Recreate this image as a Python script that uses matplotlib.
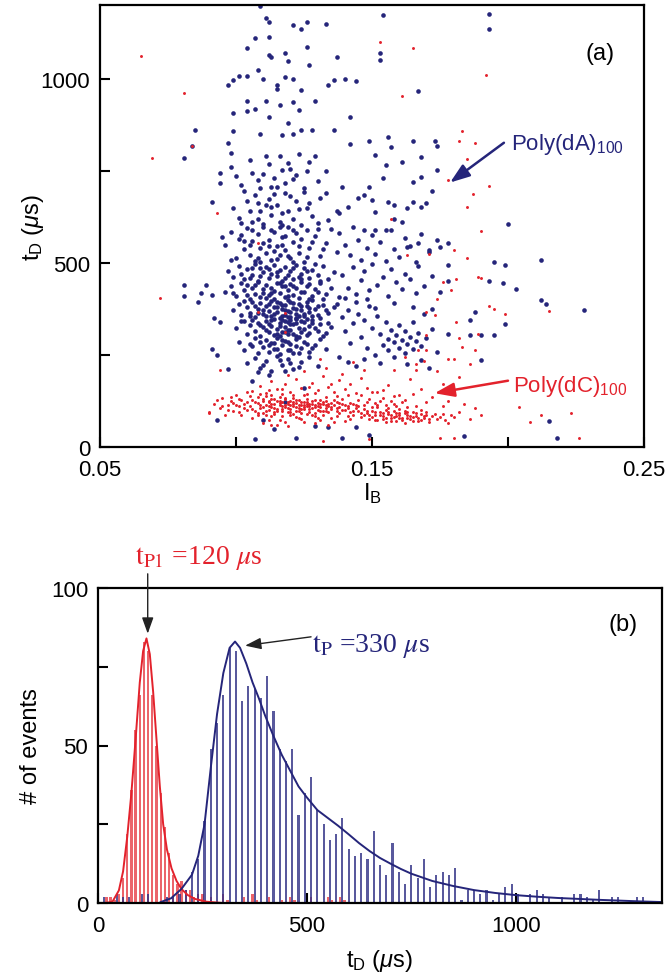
import matplotlib
matplotlib.use("Agg")
import matplotlib.pyplot as plt
from matplotlib.ticker import MultipleLocator, FixedLocator

# ----------------------------
# Data
# ----------------------------

# panel (a): blocking current I_B vs dwell time t_D (us)
blue_core = [
    (0.102,712),(0.106,745),(0.109,702),(0.112,768),(0.114,731),(0.116,790),(0.118,716),(0.120,756),(0.122,738),
    (0.125,702),(0.127,775),(0.130,722),(0.111,790),(0.117,752),(0.108,725),(0.123,795),(0.133,748),(0.115,705),
    (0.099,648),(0.101,622),(0.104,668),(0.106,611),(0.107,684),(0.109,642),(0.110,605),(0.112,673),(0.113,630),
    (0.115,656),(0.116,612),(0.118,690),(0.119,641),(0.121,619),(0.122,667),(0.124,603),(0.126,650),(0.128,628),
    (0.131,676),(0.134,615),(0.103,695),(0.117,635),(0.120,681),(0.111,658),(0.125,691),(0.108,620),(0.137,642),
    (0.100,735),(0.105,780),(0.110,740),(0.113,705),(0.119,772),(0.121,728),(0.126,748),(0.129,790),(0.105,640),
    (0.108,662),(0.114,687),(0.117,602),(0.123,645),(0.127,662),(0.130,608),(0.133,690),(0.102,607),(0.113,651),
    (0.096,548),(0.098,583),(0.100,512),(0.101,566),(0.103,537),(0.104,594),(0.105,521),(0.106,559),(0.107,505),
    (0.108,578),(0.109,541),(0.110,597),(0.111,528),(0.112,562),(0.113,509),(0.114,585),(0.115,547),(0.116,520),
    (0.117,571),(0.118,534),(0.119,598),(0.120,513),(0.121,556),(0.122,580),(0.123,527),(0.124,565),(0.125,503),
    (0.126,589),(0.127,540),(0.129,572),(0.131,518),(0.133,553),(0.135,591),(0.137,530),(0.109,502),(0.114,533),
    (0.118,574),(0.121,501),(0.106,590),(0.112,545),(0.116,598),(0.103,558),
    (0.098,507),(0.102,575),(0.105,548),(0.108,512),(0.110,555),(0.113,588),(0.115,510),(0.117,548),(0.119,519),
    (0.121,590),(0.123,546),(0.126,515),(0.128,556),(0.130,593),(0.132,537),
    (0.097,478),(0.099,462),(0.101,491),(0.103,455),(0.104,483),(0.106,468),(0.107,497),(0.108,452),(0.110,476),
    (0.111,489),(0.112,458),(0.113,471),(0.114,495),(0.115,463),(0.116,481),(0.117,452),(0.118,490),(0.119,466),
    (0.120,478),(0.121,455),(0.122,493),(0.124,470),(0.125,486),(0.127,459),(0.128,481),(0.130,467),(0.132,492),
    (0.134,456),(0.136,474),(0.105,459),(0.109,485),(0.123,462),
    (0.102,470),(0.106,487),(0.109,463),(0.112,482),(0.115,476),(0.118,460),(0.121,487),(0.124,455),(0.126,478),
    (0.129,497),(0.131,452),
    (0.096,421),(0.098,438),(0.100,410),(0.102,446),(0.103,425),(0.105,403),(0.106,433),(0.107,415),(0.108,447),
    (0.109,406),(0.110,428),(0.111,440),(0.112,412),(0.113,432),(0.114,402),(0.115,445),(0.116,419),(0.117,436),
    (0.118,408),(0.119,426),(0.120,443),(0.121,414),(0.122,431),(0.123,405),(0.124,448),(0.125,420),(0.126,437),
    (0.128,411),(0.129,429),(0.131,445),(0.133,416),(0.135,433),(0.138,407),(0.104,441),(0.110,418),(0.118,438),
    (0.127,402),(0.114,424),
    (0.099,418),(0.104,412),(0.107,440),(0.111,405),(0.113,419),(0.116,446),(0.119,410),(0.121,436),(0.124,422),
    (0.127,443),(0.130,420),(0.132,403),
    (0.099,372),(0.101,388),(0.102,358),(0.104,381),(0.105,365),(0.106,395),(0.107,352),(0.108,376),(0.109,390),
    (0.110,361),(0.111,384),(0.112,370),(0.113,397),(0.113,355),(0.114,379),(0.115,366),(0.116,392),(0.116,351),
    (0.117,374),(0.118,386),(0.118,359),(0.119,369),(0.120,394),(0.120,353),(0.121,377),(0.122,362),(0.123,389),
    (0.124,371),(0.125,356),(0.126,383),(0.127,367),(0.128,398),(0.129,375),(0.130,358),(0.132,386),(0.134,364),
    (0.136,379),(0.103,396),(0.111,357),(0.115,381),(0.119,398),(0.122,350),(0.108,363),
    (0.100,322),(0.102,341),(0.104,308),(0.105,331),(0.106,346),(0.107,315),(0.108,337),(0.109,302),(0.110,325),
    (0.111,343),(0.112,311),(0.113,329),(0.114,348),(0.114,304),(0.115,320),(0.116,338),(0.117,313),(0.117,345),
    (0.118,327),(0.119,306),(0.119,340),(0.120,318),(0.121,333),(0.122,301),(0.122,347),(0.123,324),(0.124,312),
    (0.125,339),(0.126,305),(0.127,328),(0.128,344),(0.130,316),(0.131,335),(0.133,309),(0.135,326),(0.112,333),
    (0.116,301),(0.120,346),(0.118,312),
    (0.103,342),(0.105,355),(0.107,384),(0.109,331),(0.110,372),(0.111,318),(0.112,388),(0.113,345),(0.114,362),
    (0.115,307),(0.115,395),(0.116,328),(0.117,356),(0.117,385),(0.118,341),(0.118,372),(0.119,319),(0.119,352),
    (0.120,366),(0.120,334),(0.121,390),(0.121,308),(0.122,376),(0.122,337),(0.123,355),(0.123,298),(0.124,383),
    (0.124,343),(0.125,362),(0.125,320),(0.126,348),(0.126,394),(0.127,310),(0.127,377),(0.128,336),(0.128,357),
    (0.129,323),(0.130,382),(0.131,349),(0.132,302),(0.133,371),(0.134,338),
    (0.101,286),(0.103,262),(0.105,279),(0.107,295),(0.108,256),(0.110,271),(0.111,290),(0.112,259),(0.113,283),
    (0.114,267),(0.115,297),(0.116,252),(0.117,276),(0.118,289),(0.119,263),(0.120,280),(0.121,254),(0.122,293),
    (0.124,270),(0.125,285),(0.127,258),(0.129,277),(0.131,292),(0.133,265),(0.114,283),
    (0.106,275),(0.109,284),(0.112,276),(0.115,265),(0.117,291),(0.119,284),(0.120,262),(0.122,274),(0.123,256),
    (0.126,279),(0.128,268),
    (0.104,228),(0.107,241),(0.109,215),(0.111,234),(0.113,207),(0.115,246),(0.117,222),(0.119,238),(0.121,211),
    (0.124,230),(0.127,244),(0.108,203),(0.130,219),(0.116,236),(0.120,228),(0.123,217),(0.110,222),(0.112,196),
    (0.118,205),
]

blue_wing = [
    (0.138,582),(0.140,548),(0.142,521),(0.143,596),(0.145,563),(0.146,508),(0.148,540),(0.150,575),(0.151,525),
    (0.153,556),(0.155,506),(0.157,590),(0.158,538),(0.160,517),(0.162,567),(0.164,545),(0.166,503),(0.168,578),
    (0.171,529),(0.174,561),(0.139,468),(0.141,432),(0.143,489),(0.144,415),(0.146,454),(0.147,478),(0.149,426),
    (0.150,496),(0.152,441),(0.154,462),(0.156,409),(0.157,483),(0.159,447),(0.161,428),(0.162,471),(0.164,455),
    (0.166,418),(0.167,492),(0.169,436),(0.172,464),(0.175,421),(0.178,452),(0.140,405),(0.148,402),
    (0.137,388),(0.139,352),(0.140,315),(0.141,371),(0.142,283),(0.143,338),(0.145,362),(0.146,298),(0.147,345),
    (0.148,268),(0.149,384),(0.150,322),(0.151,251),(0.152,357),(0.153,307),(0.154,276),(0.155,339),(0.156,292),
    (0.156,262),(0.157,318),(0.158,284),(0.159,305),(0.160,270),(0.160,331),(0.161,291),(0.162,256),(0.162,314),
    (0.163,279),(0.164,300),(0.165,266),(0.165,340),(0.166,287),(0.167,309),(0.168,274),(0.169,362),(0.170,295),
    (0.172,320),(0.174,258),(0.138,245),(0.141,232),(0.144,221),(0.147,238),(0.153,228),(0.158,243),(0.163,226),
    (0.168,235),(0.171,215),(0.144,394),(0.151,378),(0.158,392),(0.165,381),(0.172,375),
]

blue_sparse = [
    (0.109,1197),(0.111,1166),(0.112,1155),(0.121,1147),(0.126,1155),(0.124,1134),(0.133,1149),(0.154,1173),
    (0.193,1176),(0.193,1135),(0.107,1110),(0.112,1114),(0.104,1084),(0.112,1064),(0.113,1058),(0.118,1071),
    (0.119,1048),(0.126,1087),(0.137,1060),(0.127,1036),(0.153,1071),(0.153,1051),
    (0.097,982),(0.099,996),(0.101,1008),(0.104,1007),(0.108,1024),(0.110,999),(0.115,982),(0.118,1005),
    (0.121,998),(0.124,969),(0.115,973),(0.134,983),(0.136,996),(0.140,998),(0.144,994),(0.167,966),
    (0.104,940),(0.107,918),(0.104,912),(0.111,940),(0.116,928),(0.121,937),(0.123,915),(0.129,939),
    (0.099,906),(0.112,895),(0.119,880),(0.142,895),(0.136,860),(0.128,860),(0.124,860),
    (0.085,860),(0.099,858),(0.109,851),(0.117,847),(0.121,851),(0.084,818),(0.097,826),(0.081,785),
    (0.142,822),(0.149,830),(0.156,842),(0.157,815),(0.165,830),(0.173,830),(0.174,817),(0.151,794),
    (0.155,765),(0.161,773),(0.168,786),(0.174,752),(0.165,720),(0.168,734),(0.172,694),(0.154,729),
    (0.149,705),(0.147,684),(0.139,707),(0.138,634),(0.141,652),(0.145,677),(0.150,670),(0.151,639),
    (0.156,665),(0.158,658),(0.163,650),(0.165,665),(0.170,663),(0.168,652),(0.155,589),(0.151,589),
    (0.147,589),(0.161,610),(0.158,620),(0.200,605),
    (0.178,553),(0.175,543),(0.171,534),(0.167,554),(0.163,542),(0.212,507),(0.195,502),(0.199,494),
    (0.178,494),(0.193,451),(0.198,444),(0.203,430),(0.212,399),(0.214,388),(0.228,371),(0.199,333),
    (0.195,305),(0.190,305),(0.186,305),(0.178,306),(0.186,346),(0.188,367),(0.190,236),(0.215,71),
    (0.218,24),(0.184,29),
    (0.081,439),(0.081,409),(0.086,394),(0.087,418),(0.089,441),(0.091,412),(0.092,349),(0.094,340),
    (0.091,265),(0.093,251),(0.097,213),(0.093,72),(0.095,571),(0.094,743),(0.094,716),(0.091,666),
    (0.098,761),(0.098,797),
    (0.107,23),(0.114,50),(0.122,24),(0.129,56),(0.134,54),(0.139,24),(0.149,32),(0.144,54),(0.110,72),
    (0.118,122),(0.106,180),(0.125,160),
]

red_core = [
    (0.105,112),(0.106,128),(0.107,98),(0.108,119),(0.108,135),(0.109,105),(0.110,124),(0.110,92),(0.111,115),
    (0.111,138),(0.112,101),(0.112,121),(0.113,109),(0.113,131),(0.114,95),(0.114,117),(0.115,126),(0.115,104),
    (0.116,113),(0.116,136),(0.117,99),(0.117,121),(0.118,108),(0.118,129),(0.119,94),(0.119,116),(0.120,103),
    (0.120,125),(0.121,111),(0.121,133),(0.122,97),(0.122,119),(0.123,106),(0.123,127),(0.124,114),(0.124,91),
    (0.125,122),(0.125,102),(0.126,110),(0.126,131),(0.127,96),(0.127,118),(0.128,107),(0.128,126),(0.129,113),
    (0.129,93),(0.130,120),(0.130,101),(0.131,109),(0.131,128),(0.132,98),(0.132,116),(0.133,105),(0.133,124),
    (0.134,111),(0.134,94),(0.135,119),(0.135,103),(0.136,113),(0.137,99),(0.137,122),(0.138,108),(0.139,116),
    (0.140,101),(0.141,112),(0.142,95),(0.112,111),(0.116,119),(0.119,107),(0.121,123),(0.124,104),(0.126,116),
    (0.129,108),(0.131,118),(0.118,114),(0.114,106),(0.123,115),(0.127,111),(0.110,108),(0.133,113),(0.120,114),
    (0.117,110),(0.125,113),(0.122,109),
    (0.106,104),(0.107,121),(0.109,113),(0.110,131),(0.111,99),(0.112,126),(0.113,116),(0.114,129),(0.115,97),
    (0.116,125),(0.117,104),(0.118,133),(0.119,123),(0.120,96),(0.121,117),(0.122,128),(0.123,99),(0.124,121),
    (0.125,108),(0.126,123),(0.127,103),(0.128,116),(0.129,127),(0.130,110),(0.131,97),(0.132,123),(0.133,97),
    (0.134,118),(0.135,109),(0.136,127),(0.137,106),(0.138,120),(0.139,100),(0.140,113),(0.141,105),(0.142,119),
    (0.143,99),(0.144,113),
    (0.090,96),(0.092,118),(0.094,105),(0.095,132),(0.096,88),(0.097,114),(0.098,125),(0.099,99),(0.100,141),
    (0.101,110),(0.102,86),(0.102,128),(0.103,117),(0.104,148),(0.104,101),(0.093,128),(0.099,120),(0.101,95),
    (0.103,106),(0.104,123),(0.100,115),(0.097,101),(0.095,112),(0.098,136),(0.101,131),(0.105,139),(0.109,143),
    (0.113,141),(0.117,145),(0.121,142),(0.125,140),(0.129,146),(0.133,137),(0.137,139),(0.139,131),
    (0.106,152),(0.109,166),(0.111,147),(0.113,178),(0.115,158),(0.118,171),(0.120,149),(0.122,185),(0.124,160),
    (0.126,145),(0.128,174),(0.130,155),(0.132,192),(0.134,163),(0.136,148),(0.138,181),(0.140,157),(0.142,170),
    (0.144,146),(0.146,188),(0.148,161),(0.119,196),(0.125,205),(0.133,215),(0.139,198),(0.143,230),(0.131,240),
    (0.147,210),(0.117,158),(0.127,162),(0.135,172),(0.141,142),(0.112,156),
    (0.106,78),(0.110,66),(0.113,84),(0.116,72),(0.119,58),(0.122,82),(0.125,69),(0.128,86),(0.131,74),
    (0.134,61),(0.137,83),(0.140,71),(0.143,88),(0.108,88),(0.121,89),(0.115,61),(0.129,64),
    (0.108,93),(0.111,86),(0.114,89),(0.117,83),(0.120,87),(0.123,80),(0.126,90),(0.129,83),(0.132,88),
    (0.135,79),(0.138,92),(0.141,84),(0.112,73),(0.118,69),(0.124,75),(0.130,78),(0.136,68),(0.142,76),
    (0.145,98),(0.146,82),(0.147,104),(0.148,91),(0.149,76),(0.150,99),(0.151,87),(0.152,108),(0.152,72),
    (0.153,94),(0.154,83),(0.155,101),(0.155,68),(0.156,90),(0.157,79),(0.158,97),(0.159,85),(0.159,71),
    (0.160,92),(0.161,80),(0.162,99),(0.162,66),(0.163,88),(0.164,76),(0.165,94),(0.166,83),(0.167,71),
    (0.168,89),(0.169,78),(0.170,95),(0.171,68),(0.172,84),(0.174,75),(0.176,90),(0.178,64),(0.180,81),
    (0.157,88),(0.160,78),(0.154,92),(0.151,95),(0.165,81),(0.168,74),(0.149,88),(0.146,93),(0.163,96),
    (0.170,86),
    (0.147,87),(0.148,99),(0.150,82),(0.151,73),(0.153,86),(0.154,75),(0.156,96),(0.157,70),(0.158,82),
    (0.160,86),(0.161,73),(0.162,91),(0.164,85),(0.165,70),(0.166,92),(0.167,79),(0.169,85),(0.171,77),
    (0.173,90),(0.175,82),(0.177,72),(0.179,86),(0.155,78),(0.159,93),(0.163,80),
    (0.143,118),(0.145,127),(0.147,114),(0.149,131),(0.151,119),(0.153,126),(0.155,113),(0.157,124),(0.159,110),
    (0.161,121),(0.163,108),(0.144,106),(0.150,109),(0.156,106),
    (0.145,112),(0.148,121),(0.152,114),(0.154,132),(0.158,117),(0.160,104),(0.162,128),(0.166,110),(0.168,101),
    (0.146,140),(0.150,148),(0.154,156),(0.158,139),(0.165,145),(0.170,122),
]

red_sparse = [
    (0.152,150),(0.156,168),(0.160,142),(0.164,185),(0.168,158),(0.172,135),(0.176,172),(0.180,148),(0.184,118),
    (0.188,106),(0.158,210),(0.166,225),(0.174,205),(0.182,190),(0.162,245),(0.170,262),(0.178,240),(0.186,225),
    (0.176,110),(0.182,96),(0.186,75),(0.190,88),(0.178,125),
    (0.065,1062),(0.081,962),(0.084,818),(0.069,785),(0.072,405),(0.153,1100),(0.165,1084),(0.192,1011),
    (0.161,954),(0.183,858),(0.188,826),(0.182,830),(0.185,782),(0.193,709),(0.187,688),(0.185,652),
    (0.190,586),(0.178,725),(0.093,636),(0.108,553),(0.157,620),(0.163,520),(0.171,525),(0.180,534),
    (0.185,512),(0.189,462),(0.190,460),(0.181,457),(0.176,448),(0.179,426),(0.193,383),(0.195,376),
    (0.199,362),(0.215,370),(0.170,367),(0.173,358),(0.174,403),(0.181,340),(0.189,308),(0.182,297),
    (0.183,272),(0.180,240),(0.188,263),(0.170,303),(0.167,263),(0.169,233),(0.166,208),(0.204,109),
    (0.212,86),(0.223,91),(0.226,25),(0.208,68),(0.180,25),(0.175,25),(0.149,23),(0.132,16),(0.113,59),
    (0.094,210),(0.090,91),(0.118,313),(0.118,364),(0.108,366),
]

# panel (b): histogram of t_D (bin centre in us, # of events)
blue_bin = [15, 45, 60, 75, 105, 120, 165, 180, 195, 210,
            225, 240, 255, 270, 285, 300, 315, 330, 345, 360,
            375, 390, 405, 420, 435, 450, 465, 480, 495, 510,
            525, 540, 555, 570, 585, 600, 615, 630, 645, 660,
            675, 690, 705, 720, 735, 750, 765, 780, 795, 810,
            825, 840, 855, 870, 885, 900, 915, 930, 945, 960,
            975, 990, 1005, 1035, 1050, 1065, 1080, 1110, 1140, 1155,
            1170, 1185, 1200, 1230, 1245, 1290, 1305]
blue_cnt = [2, 3, 2, 2, 3, 3, 2, 2, 3, 4,
            10, 14, 26, 49, 57, 66, 81, 80, 64, 69,
            68, 65, 72, 61, 49, 45, 49, 28, 35, 40,
            30, 25, 20, 22, 27, 17, 15, 16, 14, 23,
            12, 9, 19, 10, 6, 12, 8, 14, 5, 9,
            10, 9, 11, 1, 4, 4, 3, 4, 1, 3,
            5, 6, 3, 3, 4, 3, 2, 2, 3, 3,
            2, 1, 4, 2, 2, 2, 2]

red_bin = [20, 30, 40, 50, 60, 70, 80, 90, 100, 110,
           120, 130, 140, 150, 160, 170, 180, 190, 200, 210,
           220, 230, 240, 250, 270, 300, 310, 350, 370, 380,
           410, 440, 460, 470, 510, 550, 560, 580, 590]
red_cnt = [2, 2, 1, 3, 8, 22, 36, 55, 66, 83,
           80, 66, 50, 35, 24, 16, 9, 6, 7, 4,
           4, 2, 3, 3, 2, 3, 1, 2, 3, 1,
           2, 1, 2, 1, 2, 2, 1, 2, 1]

# fitted curves
blue_fit_t = [150, 175, 200, 225, 240, 255, 270, 285, 300, 315, 328, 340, 355, 370, 385, 400, 420, 440, 460, 480,
              500, 525, 550, 575, 600, 625, 650, 675, 700, 725, 750, 800, 850, 900, 950, 1000, 1050, 1100, 1200,
              1300, 1350]
blue_fit_n = [0.3, 1.5, 4.5, 9, 15, 25, 43, 60, 73, 81, 83, 81, 76, 70, 65, 59.5, 53, 47, 42, 37,
              33.5, 29.5, 27, 24.5, 21.8, 19, 16.5, 14.3, 12.5, 10.8, 9.3, 7.0, 5.4, 4.1, 3.2, 2.5, 2.0, 1.6, 1.0,
              0.5, 0.3]
red_fit_t = [20, 35, 50, 60, 70, 80, 90, 100, 108, 116, 124, 132, 140, 148, 156, 165, 176, 188, 200, 215,
             232, 260, 300]
red_fit_n = [0, 0.5, 4, 10, 21, 35, 52, 70, 80, 84, 79, 67, 52, 37, 25, 17, 11, 7, 4.4, 2.5,
             1.3, 0.4, 0]

# ----------------------------
# Style
# ----------------------------
BLUE = '#25257a'
RED = '#e3222c'

plt.rcParams['font.family'] = ['Liberation Sans', 'DejaVu Sans']
plt.rcParams['mathtext.fontset'] = 'custom'
plt.rcParams['mathtext.rm'] = 'Liberation Sans'
plt.rcParams['mathtext.it'] = 'Liberation Sans:italic'
plt.rcParams['mathtext.bf'] = 'Liberation Sans:bold'

W, H = 669, 978
fig = plt.figure(figsize=(W / 100, H / 100), dpi=100)
ax1 = fig.add_axes([100 / W, 1 - 448 / H, 544 / W, 442 / H])
ax2 = fig.add_axes([98 / W, 1 - 904 / H, 564 / W, 315 / H])


def style_axes(ax):
    for sp in ax.spines.values():
        sp.set_linewidth(1.6)
    ax.tick_params(which='both', direction='in', top=False, right=False,
                   length=7, width=1.5, labelsize=16, pad=7)
    ax.tick_params(axis='x', which='both', pad=9)


# ----------------------------
# Panel (a)
# ----------------------------
for pts, col, size in [(blue_core, BLUE, 11), (blue_wing, BLUE, 11), (blue_sparse, BLUE, 11),
                       (red_core, RED, 4.5), (red_sparse, RED, 4.5)]:
    xs, ys = zip(*pts)
    ax1.scatter(xs, ys, s=size, color=col, linewidths=0)

ax1.set_xlim(0.05, 0.25)
ax1.set_ylim(0, 1200)
ax1.xaxis.set_major_locator(FixedLocator([0.05, 0.15, 0.25]))
ax1.xaxis.set_minor_locator(FixedLocator([0.10, 0.20]))
ax1.set_xticklabels(['0.05', '0.15', '0.25'])
ax1.yaxis.set_major_locator(MultipleLocator(500))
ax1.yaxis.set_minor_locator(MultipleLocator(250))
style_axes(ax1)
ax1.set_xlabel(r'I$_\mathrm{B}$', fontsize=17)
ax1.set_ylabel(r't$_\mathrm{D}$ ($\mu$s)', fontsize=17)
ax1.xaxis.set_label_coords(0.5, -0.075)
ax1.yaxis.set_label_coords(-0.10, 0.5)

ax1.text(0.234, 1069, '(a)', fontsize=17, ha='center', va='center')
ax1.text(0.222, 824, r'Poly(dA)$_{100}$', color=BLUE, fontsize=16, ha='center', va='center')
ax1.text(0.223, 168, r'Poly(dC)$_{100}$', color=RED, fontsize=16, ha='center', va='center')
ax1.annotate('', xy=(0.1787, 718), xytext=(0.1985, 826),
             arrowprops=dict(arrowstyle='-|>,head_length=0.7,head_width=0.25', color=BLUE, lw=1.8,
                             mutation_scale=17, shrinkA=0, shrinkB=0))
ax1.annotate('', xy=(0.173, 146), xytext=(0.200, 180),
             arrowprops=dict(arrowstyle='-|>,head_length=0.7,head_width=0.25', color=RED, lw=1.8,
                             mutation_scale=17, shrinkA=0, shrinkB=0))

# ----------------------------
# Panel (b)
# ----------------------------
ax2.bar(red_bin, red_cnt, width=5.5, color=RED, alpha=0.7, linewidth=0)
ax2.bar(blue_bin, blue_cnt, width=5, color='#2f2f85', alpha=0.8, linewidth=0)
ax2.plot(red_fit_t, red_fit_n, color=RED, lw=1.4)
ax2.plot(blue_fit_t, blue_fit_n, color=BLUE, lw=1.4)

ax2.set_xlim(0, 1350)
ax2.set_ylim(0, 100)
ax2.xaxis.set_major_locator(MultipleLocator(500))
ax2.yaxis.set_major_locator(MultipleLocator(50))
ax2.yaxis.set_minor_locator(MultipleLocator(25))
style_axes(ax2)
ax2.set_xlabel(r't$_\mathrm{D}$ ($\mu$s)', fontsize=17)
ax2.set_ylabel('# of events', fontsize=17)
ax2.xaxis.set_label_coords(0.5, -0.14)
ax2.yaxis.set_label_coords(-0.10, 0.5)

ax2.text(1256, 88.5, '(b)', fontsize=17, ha='center', va='center')
ax2.text(242, 110, r'$\mathrm{t_{P1}}$ =120 $\mu$s', color=RED, fontsize=20,
         family='Liberation Serif', math_fontfamily='stix', ha='center', va='center', clip_on=False)
ax2.text(513, 82, r'$\mathrm{t_{P}}$ =330 $\mu$s', color=BLUE, fontsize=20,
         family='Liberation Serif', math_fontfamily='stix', ha='left', va='center')
ax2.annotate('', xy=(119, 85.5), xytext=(119, 104.5),
             arrowprops=dict(arrowstyle='-|>,head_length=0.7,head_width=0.25', color='#222222', lw=1.0,
                             mutation_scale=14, shrinkA=0, shrinkB=0), annotation_clip=False)
ax2.annotate('', xy=(352, 81.7), xytext=(510, 84.5),
             arrowprops=dict(arrowstyle='-|>,head_length=0.7,head_width=0.25', color='#222222', lw=1.0,
                             mutation_scale=14, shrinkA=0, shrinkB=0))

fig.savefig('out.png', dpi=100)
